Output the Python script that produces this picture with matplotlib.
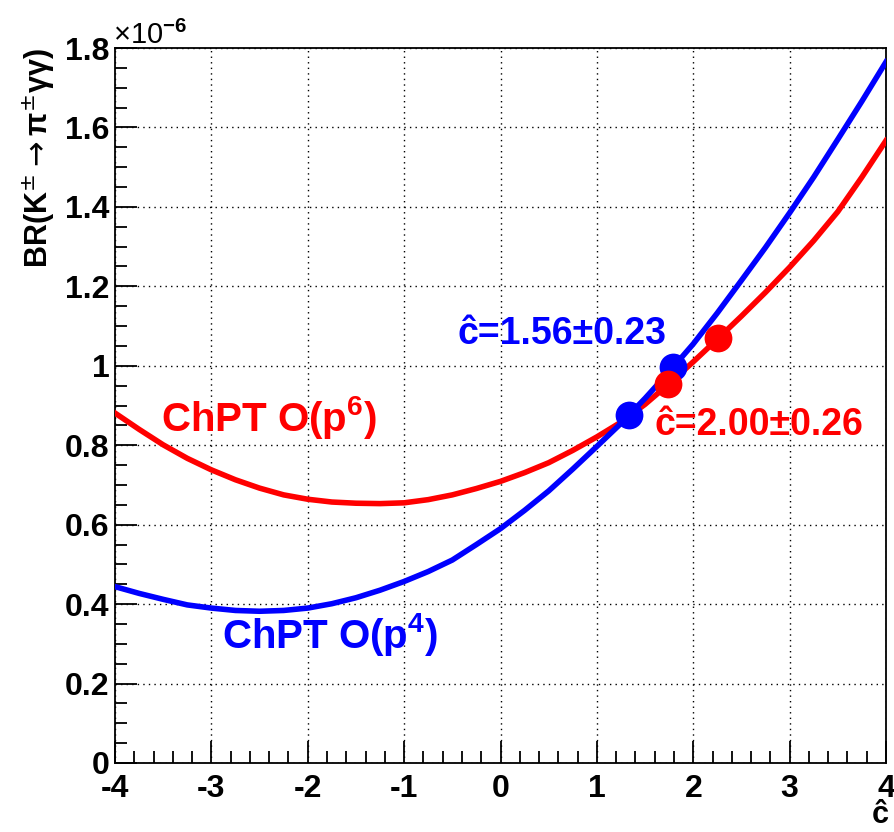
import numpy as np
import matplotlib.pyplot as plt
from matplotlib.ticker import MultipleLocator

plt.rcParams['font.family'] = ['Liberation Sans', 'DejaVu Sans']
plt.rcParams['mathtext.fontset'] = 'custom'
plt.rcParams['mathtext.rm'] = 'Liberation Sans:bold'
plt.rcParams['mathtext.bf'] = 'Liberation Sans:bold'
plt.rcParams['mathtext.it'] = 'Liberation Sans:bold:italic'
plt.rcParams['axes.unicode_minus'] = False

# -- data (BR in units of 1e-6)
c_grid = [-4, -3.75, -3.5, -3.25, -3, -2.75, -2.5, -2.25, -2, -1.75, -1.5, -1.25,
          -1, -0.75, -0.5, -0.25, 0, 0.25, 0.5, 0.75, 1, 1.25, 1.5, 1.75,
          2, 2.25, 2.5, 2.75, 3, 3.25, 3.5, 3.75, 4]
br_p4 = [0.444, 0.427, 0.412, 0.398, 0.390, 0.384, 0.382, 0.384, 0.390, 0.401, 0.416, 0.435,
         0.457, 0.482, 0.511, 0.550, 0.590, 0.636, 0.685, 0.740, 0.797, 0.855, 0.918, 0.985,
         1.055, 1.133, 1.215, 1.298, 1.385, 1.475, 1.570, 1.666, 1.765]
br_p6 = [0.881, 0.840, 0.801, 0.767, 0.738, 0.713, 0.692, 0.675, 0.664, 0.657, 0.654, 0.653,
         0.655, 0.663, 0.675, 0.691, 0.709, 0.731, 0.756, 0.787, 0.821, 0.858, 0.903, 0.955,
         1.010, 1.067, 1.125, 1.185, 1.248, 1.315, 1.388, 1.475, 1.567]

c_p4, err_p4 = 1.56, 0.23
c_p6, err_p6 = 2.00, 0.26

blue = '#0000ff'
red = '#ff0000'

fig = plt.figure(figsize=(8.95, 8.32), dpi=100)
ax = fig.add_axes([115/895, 1-763/832, (886-115)/895, (763-48)/832])

ax.plot(c_grid, br_p6, color=red, lw=4, zorder=3)
ax.plot(c_grid, br_p4, color=blue, lw=4, zorder=3)

# points at c +- err, sitting on the curves
xp4 = np.array([c_p4 - err_p4, c_p4 + err_p4])
xp6 = np.array([c_p6 - err_p6, c_p6 + err_p6])
ax.plot(xp4, np.interp(xp4, c_grid, br_p4), 'o', color=blue, ms=20, mew=0, zorder=4)
ax.plot(xp6, np.interp(xp6, c_grid, br_p6), 'o', color=red, ms=20, mew=0, zorder=5)

ax.set_xlim(-4, 4)
ax.set_ylim(0, 1.8)
ax.xaxis.set_major_locator(MultipleLocator(1))
ax.xaxis.set_minor_locator(MultipleLocator(0.2))
ax.yaxis.set_minor_locator(MultipleLocator(0.05))
ax.set_yticks(np.arange(0, 1.81, 0.2))
ax.set_yticklabels(['0', '0.2', '0.4', '0.6', '0.8', '1', '1.2', '1.4', '1.6', '1.8'])
ax.tick_params(which='both', direction='in', top=False, right=False, width=1.3)
ax.tick_params(which='major', length=16, labelsize=23, pad=4)
ax.tick_params(axis='x', which='major', pad=8)
ax.tick_params(which='minor', length=8.5)
for lab in ax.get_xticklabels() + ax.get_yticklabels():
    lab.set_fontweight('bold')
for sp in ax.spines.values():
    sp.set_linewidth(1.3)

ax.grid(True, which='major', color='black', linestyle=(0, (1, 3)), lw=1.0)

# -- texts
ax.text(-3.52, 0.835, 'ChPT O(p$^{6}$)', color=red, fontsize=29, fontweight='bold')
ax.text(-2.89, 0.29, 'ChPT O(p$^{4}$)', color=blue, fontsize=29, fontweight='bold')
ax.text(-0.45, 1.055, 'ĉ=1.56±0.23', color=blue, fontsize=27, fontweight='bold')
ax.text(1.6, 0.825, 'ĉ=2.00±0.26', color=red, fontsize=27, fontweight='bold')

fig.text(57/895, 1-48/832, 'BR(K$^{\\pm}$$\\rightarrow$π$^{\\pm}$γγ)', fontsize=22,
         fontweight='bold', rotation=90, ha='right', va='top',
         math_fontfamily='dejavusans')
fig.text(880/895, 1-815/832, 'ĉ', fontsize=22, fontweight='bold', ha='center', va='center')
fig.text(113/895, 1-44/832, '×10$^{-6}$', fontsize=21, ha='left', va='baseline')

fig.savefig('out.png', dpi=100)
